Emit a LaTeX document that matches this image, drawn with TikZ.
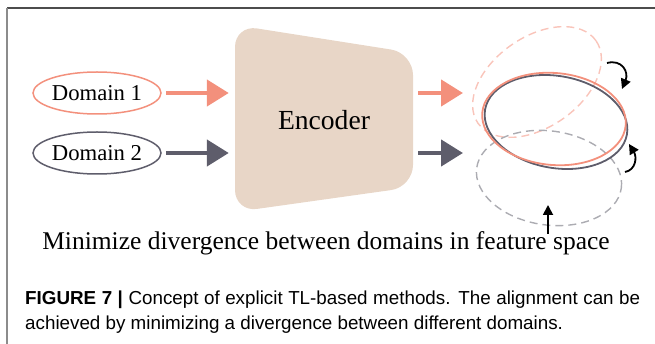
\documentclass[tikz,border=0pt]{standalone}
\usepackage{fontspec}
\setmainfont{Liberation Serif}
\newfontfamily\leyendafont{Liberation Sans}
\usetikzlibrary{shapes.geometric,arrows.meta}

\definecolor{salmon}{RGB}{243,144,124}
\definecolor{pizarra}{RGB}{94,93,107}
\definecolor{beige}{RGB}{232,214,199}
\definecolor{salmonclaro}{RGB}{249,196,186}
\definecolor{grisclaro}{RGB}{172,172,178}

\tikzset{
  dominio/.style={draw, ellipse, line width=1.5pt, minimum width=128pt, minimum height=42pt, inner sep=0pt, font=\fontsize{22.7}{24}\selectfont},
  flecha/.style={line width=4.5pt, -{Triangle[length=22pt,width=26pt]}},
  giro/.style={line width=1.8pt, -{Triangle[length=10pt,width=10pt]}},
  rasgo/.style={draw, ellipse, inner sep=0pt, minimum width=144pt, minimum height=92pt},
  borrador/.style={line width=1.4pt, dash pattern=on 8pt off 5pt},
  leyenda/.style={anchor=base west, inner sep=0pt, font=\leyendafont\fontsize{18.8}{22}\selectfont}
}

\begin{document}
\begin{tikzpicture}[x=1pt, y=-1pt]
		\useasboundingbox (0,0) rectangle (655,344);
		% Marco
		\draw[line width=1.2pt, black!70] (7,8) -- (655,8);
		\draw[line width=2pt, black!45] (7,8) -- (7,344);
		
		% Encoder (trapecio)
		\fill[beige, rounded corners=22pt] (235,25) -- (413,53) -- (413,187) -- (235,212) -- cycle;
		\node[minimum width=178pt, minimum height=134pt, inner sep=0pt, font=\fontsize{27.6}{30}\selectfont] (enc) at (324,120) {Encoder};
		
		% Dominios de entrada
		\node[dominio, salmon, text=black] (d1) at (97,93) {Domain 1};
		\node[dominio, pizarra, text=black] (d2) at (97,153) {Domain 2};
		\draw[flecha, salmon, shorten <=4pt, shorten >=6pt] (d1) -- (d1 -| enc.west);
		\draw[flecha, pizarra, shorten <=4pt, shorten >=6pt] (d2) -- (d2 -| enc.west);
		
		% Espacio de rasgos
		\node[rasgo, borrador, salmonclaro, minimum height=90pt, rotate=35] (z1o) at (537,82) {};
		\node[rasgo, borrador, grisclaro, minimum width=146pt, minimum height=94pt, rotate=-8] (z2o) at (549,178) {};
		\node[rasgo, line width=1.8pt, pizarra, rotate=-10] (z2) at (556,122) {};
		\node[rasgo, line width=1.8pt, salmon, rotate=-5] (z1) at (554,119) {};
		\coordinate (p1) at (463,93);
		\coordinate (p2) at (463,153);
		\draw[flecha, salmon, shorten <=5pt] (enc.east |- d1) -- (p1);
		\draw[flecha, pizarra, shorten <=5pt] (enc.east |- d2) -- (p2);
		
		% Giros y empuje
		\coordinate (g1) at (607,63);
		\coordinate (g2) at (625,172);
		\coordinate (g3) at (548,234);
		\coordinate (g3f) at (548,205);
		\draw[giro] (g1) .. controls (622,59) and (629,72) .. (622,89);
		\draw[giro] (g2) .. controls (636,170) and (637,157) .. (629,144);
		\draw[giro] (g3) -- (g3f);
		
		% Textos
		\node[anchor=base, inner sep=0pt, font=\fontsize{25.5}{28}\selectfont] (lema) at (326,250) {Minimize divergence between domains in feature space};
		\node[leyenda] (cap1) at (25,304) {\makebox[615pt][s]{\textbf{FIGURE 7 |} Concept of explicit TL-based methods. The alignment can be}};
		\node[leyenda] (cap2) at (25,329) {achieved by minimizing a divergence between different domains.};
	\end{tikzpicture}
\end{document}
